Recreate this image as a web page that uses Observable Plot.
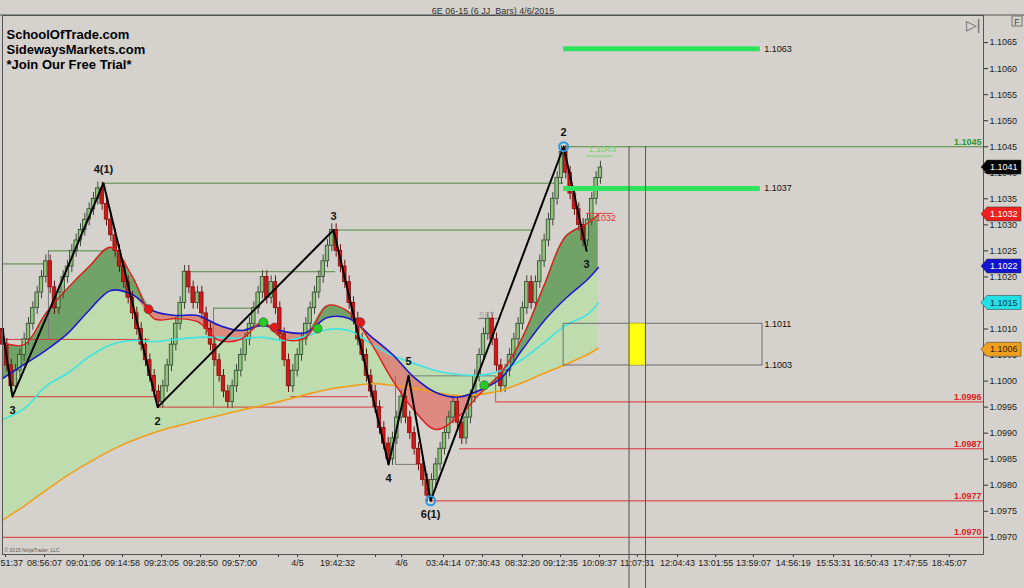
<!DOCTYPE html>
<html><head><meta charset="utf-8">
<script src="https://cdn.jsdelivr.net/npm/d3@7"></script>
<script src="https://cdn.jsdelivr.net/npm/@observablehq/plot@0.6"></script>
<style>
html,body{margin:0;padding:0;background:#d5d2cd;}
#chart{width:1024px;height:588px;position:relative;overflow:hidden;}
</style></head><body><div id="chart"></div>
<script>
// ---------- data ----------
const chartTitle = "6E 06-15 (6 JJ_Bars) 4/6/2015";
const brandLines = ["SchoolOfTrade.com", "SidewaysMarkets.com", "*Join Our Free Trial*"];
const firstOpen = 1.1010;
const closes = [
  1.1007,1.1003,1.0999,1.1002,1.1005,1.1008,1.1011,1.1014,1.1017,1.1020,
  1.1023,1.1018,1.1014,1.1017,1.1020,1.1022,1.1025,1.1027,1.1029,1.1031,
  1.1033,1.1035,1.1037,1.1034,1.1031,1.1028,1.1025,1.1022,1.1019,1.1016,
  1.1013,1.1010,1.1007,1.1004,1.1001,1.0998,1.0996,1.0999,1.1003,1.1007,
  1.1011,1.1015,1.1021,1.1018,1.1015,1.1017,1.1013,1.1010,1.1007,1.1004,
  1.1001,1.0998,1.0996,1.0999,1.1002,1.1005,1.1008,1.1011,1.1014,1.1017,
  1.1020,1.1016,1.1019,1.1014,1.1009,1.1004,1.0999,1.1002,1.1005,1.1008,
  1.1011,1.1014,1.1017,1.1020,1.1023,1.1026,1.1029,1.1025,1.1022,1.1019,
  1.1015,1.1012,1.1008,1.1005,1.1001,1.0998,1.0995,1.0991,1.0988,1.0985,
  1.0989,1.0993,1.0997,1.0993,1.0990,1.0987,1.0984,1.0981,1.0978,1.0981,
  1.0984,1.0987,1.0990,1.0993,1.0996,1.0992,1.0989,1.0993,1.0997,1.1001,
  1.1005,1.1009,1.1012,1.1008,1.1003,1.0999,1.1002,1.1005,1.1008,1.1011,
  1.1014,1.1019,1.1015,1.1019,1.1023,1.1027,1.1031,1.1035,1.1039,1.1044,
  1.1040,1.1036,1.1033,1.1030,1.1027,1.1031,1.1035,1.1039,1.1041
];
const maIndex = [0,5,10,15,20,25,30,35,40,45,50,55,60,65,70,75,80,85,90,95,100,105,110,115,120,125,130,135,137.5];
const fastMA = [1.10074,1.1007,1.1013,1.10178,1.1022,1.10257,1.1020,1.1012,1.1012,1.10114,1.10078,1.1008,1.10112,1.1008,1.10084,1.10145,1.10132,1.10074,1.10002,1.09944,1.09907,1.0993,1.09974,1.10015,1.10084,1.10184,1.10278,1.10303,1.1032];
const midMA  = [1.10005,1.10032,1.10059,1.10091,1.10136,1.10174,1.10166,1.10134,1.10126,1.10126,1.10107,1.10097,1.10107,1.10095,1.10093,1.10122,1.1012,1.10086,1.10051,1.10007,1.09978,1.09969,1.09982,1.10005,1.10061,1.10116,1.10159,1.10195,1.10218];
const slowMA = [1.09926,1.09947,1.0999,1.10015,1.10047,1.1007,1.10078,1.10076,1.1008,1.10084,1.10084,1.10082,1.10084,1.10078,1.10086,1.10099,1.10097,1.10072,1.10049,1.10034,1.1002,1.10013,1.10011,1.1002,1.10042,1.10074,1.10107,1.10128,1.1015];
const longMA = [1.09733,1.0976,1.0979,1.09819,1.09844,1.09867,1.09886,1.09901,1.09913,1.09924,1.09934,1.09944,1.09953,1.09963,1.09974,1.09984,1.0999,1.09995,1.09992,1.09986,1.09978,1.09972,1.09974,1.09982,1.09997,1.10015,1.10032,1.10051,1.10063];

const zigIndex  = [0, 2.3, 23.3, 35.8, 76.4, 89.1, 93.7, 98.8, 129.5, 134.8];
const zigPrice  = [1.1010, 1.0997, 1.1038, 1.0995, 1.1029, 1.0984, 1.1001, 1.0977, 1.1045, 1.1025];
const zigLabels = ["", "3", "4(1)", "2", "3", "4", "5", "6(1)", "2", "3"];

const crossIndex = [33.7, 60.2, 62.8, 72.7, 82.6, 111.2];
const crossPrice = [1.10138, 1.10113, 1.10103, 1.10101, 1.10113, 1.09992];
const crossColor = ["#e01818", "#22cc22", "#e01818", "#22cc22", "#e01818", "#22cc22"];
const ringIndex = [98.8, 129.5];
const ringPrice = [1.0977, 1.1045];

// [price, startBar, endBar]
const greenLevels = [[1.10225,0,10.6],[1.1025,10.6,23.3],[1.1038,23.3,129.5],[1.1021,42.7,76.9],[1.1014,48.7,58.9],[1.1029,76.4,122.5]];
const grayLevels  = [[1.1001,93.7,113.8],[1.0984,90.7,95.8],[1.1012,109.9,114.3]];
const redLevels   = [[1.1008,0,34],[1.0997,2.3,35.8],[1.0995,35.8,88],[1.0997,66.5,84.5]];
// [bar, fromPrice, toPrice]
const levelJoins  = [[10.6,1.1025,1.1008],[48.7,1.1014,1.0995],[90.7,1.1001,1.0984],[113.8,1.1001,1.0996]];
const openGreen = [[1.1045,129.5]];
const openRed   = [[1.0996,113.8],[1.0987,105.5],[1.0977,98.8],[1.0970,0]];

const targetLevels = [1.10638, 1.1037];
const targetLabels = ["1.1063", "1.1037"];
const targetStart = 129.5, targetEnd = 174.9;
const zoneLow = 1.1003, zoneHigh = 1.1011, zoneStart = 129.5, zoneEnd = 175.4;
const cursorBars = [144.6, 148.4];
const cursorTop = 1.1045, cursorBottom = 1.0960;
const tagGreen = {text:"1.1043", price:1.10445, line:1.10432, start:134.8, end:141};
const tagRed   = {text:"1.1032", price:1.10312, line:1.10322, start:134.8, end:141};
const tag597   = {text:"597", price:1.10126, bar:110};

const flagValues = [1.1041, 1.1032, 1.1022, 1.1015, 1.1006];
const flagFill   = ["#050505", "#f02020", "#1414d0", "#22e0e6", "#f0a020"];
const flagText   = ["#ffffff", "#ffffff", "#ffffff", "#0a3a4a", "#3a2000"];

const yTicks = [1.0970,1.0975,1.0980,1.0985,1.0990,1.0995,1.1000,1.1005,1.1010,1.1015,1.1020,1.1025,1.1030,1.1035,1.1040,1.1045,1.1050,1.1055,1.1060,1.1065];
const xTickIndex = [0.7,9.7,18.7,27.7,36.7,45.7,54.7,63.7,68.1,77.3,86.1,92.1,101.8,110.8,120.0,128.8,137.8,146.5,155.8,164.6,173.3,182.5,191.8,200.5,209.5,218.5];
const xTickLabels = ["08:51:37","08:56:07","09:01:06","09:14:58","09:23:05","09:28:50","09:57:00","","4/5","19:42:32","","4/6","03:44:14","07:30:43","08:32:20","09:12:35","10:09:37","11:07:31","12:04:43","13:01:55","13:59:07","14:56:19","15:53:31","16:50:43","17:47:55","18:45:07"];

// ---------- derived tables ----------
const xMax = 226.4;
const bars = closes.map((c, i) => {
  const o = i === 0 ? firstOpen : closes[i - 1];
  return {i, o, c, up: c > o, lo: Math.min(o, c), hi: Math.max(o, c)};
});
const ma = maIndex.map((i, k) => ({i, fast: fastMA[k], mid: midMA[k], slow: slowMA[k], long: longMA[k]}));
const zig = zigIndex.map((i, k) => ({i, p: zigPrice[k], label: zigLabels[k], high: k > 0 && zigPrice[k] > zigPrice[k - 1]}));
const crosses = crossIndex.map((i, k) => ({i, p: crossPrice[k], color: crossColor[k]}));
const rings = ringIndex.map((i, k) => ({i, p: ringPrice[k]}));
const targets = targetLevels.map((p, k) => ({p, label: targetLabels[k]}));
const seg = (arr) => arr.map(([p, a, b]) => ({p, a, b}));
const tickLabelMap = new Map(xTickIndex.map((v, k) => [v, xTickLabels[k]]));
const fmt = d => d.toFixed(4);

const font = "Liberation Sans, Arial, sans-serif";
const curve = "catmull-rom";

const plot = Plot.plot({
  width: 1024, height: 588,
  marginLeft: 2, marginRight: 41, marginTop: 15, marginBottom: 34,
  style: {background: "#d5d2cd", fontFamily: font, fontSize: "9px", color: "#222", overflow: "visible"},
  x: {domain: [0, xMax], axis: null},
  y: {domain: [1.09667, 1.10702], axis: null},
  color: {type: "identity"},
  marks: [
    // fills
    Plot.areaY(ma, {x: "i", y1: "long", y2: d => Math.max(d.mid, d.slow), fill: "#bfdcae", curve}),
    Plot.areaY(ma, {x: "i", y1: "mid", y2: d => Math.max(d.fast, d.mid), fill: "#5f9a55", fillOpacity: 0.85, curve}),
    Plot.areaY(ma, {x: "i", y1: "mid", y2: d => Math.min(d.fast, d.mid), fill: "#e07870", fillOpacity: 0.8, curve}),
    // level lines
    Plot.ruleY(seg(greenLevels), {y: "p", x1: "a", x2: "b", stroke: "#4f8a3c", strokeWidth: 1}),
    Plot.ruleY(seg(grayLevels), {y: "p", x1: "a", x2: "b", stroke: "#7a7a7a", strokeWidth: 1}),
    Plot.ruleY(seg(redLevels), {y: "p", x1: "a", x2: "b", stroke: "#d83a3a", strokeWidth: 1}),
    Plot.ruleX(levelJoins.map(([b, p1, p2]) => ({b, p1, p2})), {x: "b", y1: "p1", y2: "p2", stroke: "#7a7a7a", strokeWidth: 1}),
    Plot.ruleY(openGreen.map(([p, a]) => ({p, a})), {y: "p", x1: "a", x2: xMax, stroke: "#4f8a3c", strokeWidth: 1}),
    Plot.ruleY(openRed.map(([p, a]) => ({p, a})), {y: "p", x1: "a", x2: xMax, stroke: "#e03030", strokeWidth: 1}),
    Plot.text(openGreen.map(([p]) => ({p})), {x: xMax, y: "p", text: d => fmt(d.p), textAnchor: "end", dx: -2, dy: -5, fill: "#2c9a2c", fontWeight: "bold", fontSize: 9}),
    Plot.text(openRed.map(([p]) => ({p})), {x: xMax, y: "p", text: d => fmt(d.p), textAnchor: "end", dx: -2, dy: -5, fill: "#e02020", fontWeight: "bold", fontSize: 9}),
    // bars
    Plot.ruleX(bars, {x: "i", y1: d => d.lo - 0.00012, y2: d => d.hi + 0.00012, stroke: d => d.up ? "#3a4a38" : "#6a1010", strokeWidth: 1}),
    Plot.rect(bars, {x1: d => d.i - 0.4, x2: d => d.i + 0.4, y1: "o", y2: "c",
      fill: d => d.up ? "#8fc27c" : "#cc1a1a", stroke: d => d.up ? "#2e452c" : "#8a0c0c", strokeWidth: 0.8}),
    // moving averages
    Plot.line(ma, {x: "i", y: "long", stroke: "#f0a018", strokeWidth: 1.6, curve}),
    Plot.line(ma, {x: "i", y: "slow", stroke: "#3ee4e4", strokeWidth: 1.6, curve}),
    Plot.line(ma, {x: "i", y: "mid", stroke: "#1818c8", strokeWidth: 1.6, curve}),
    Plot.line(ma, {x: "i", y: "fast", stroke: "#e01c1c", strokeWidth: 1.4, curve}),
    // zigzag
    Plot.line(zig, {x: "i", y: "p", stroke: "#000", strokeWidth: 2}),
    Plot.text(zig.filter(d => d.label && d.high), {x: "i", y: "p", text: "label", dy: -14, fontWeight: "bold", fontSize: 11, fill: "#111"}),
    Plot.text(zig.filter(d => d.label && !d.high), {x: "i", y: "p", text: "label", dy: 14, fontWeight: "bold", fontSize: 11, fill: "#111"}),
    Plot.dot(crosses, {x: "i", y: "p", r: 4.5, fill: "color", stroke: "#444", strokeWidth: 0.6}),
    Plot.dot(rings, {x: "i", y: "p", r: 4.5, fill: "none", stroke: "#2a9ae8", strokeWidth: 2}),
    // small tags
    Plot.ruleY([tagGreen], {y: "line", x1: "start", x2: "end", stroke: "#70d870", strokeWidth: 1}),
    Plot.text([tagGreen], {x: "start", y: "price", text: "text", textAnchor: "start", dx: 2, fill: "#6ad86a", fontSize: 9}),
    Plot.ruleY([tagRed], {y: "line", x1: "start", x2: "end", stroke: "#e04040", strokeWidth: 1}),
    Plot.text([tagRed], {x: "start", y: "price", text: "text", textAnchor: "start", dx: 2, fill: "#e03030", fontSize: 9}),
    Plot.text([tag597], {x: "bar", y: "price", text: "text", textAnchor: "start", fill: "#a8a8a8", fontSize: 9}),
    // projections
    Plot.ruleY(targets, {y: "p", x1: targetStart, x2: targetEnd, stroke: "#2ee45c", strokeWidth: 5}),
    Plot.text(targets, {x: targetEnd, y: "p", text: "label", textAnchor: "start", dx: 4, fill: "#111", fontSize: 9}),
    Plot.rect([zoneLow], {x1: zoneStart, x2: zoneEnd, y1: zoneLow, y2: zoneHigh, fill: "none", stroke: "#6e6e6e", strokeWidth: 1}),
    Plot.text([zoneLow, zoneHigh], {x: zoneEnd, y: d => d, text: d => fmt(d), textAnchor: "start", dx: 2, fill: "#111", fontSize: 9}),
    Plot.rect([zoneLow], {x1: cursorBars[0], x2: cursorBars[1], y1: zoneLow, y2: zoneHigh, fill: "#ffff10", stroke: "#c8c800", strokeWidth: 0.5}),
    Plot.ruleX(cursorBars, {y1: cursorTop, y2: cursorBottom, stroke: "#555", strokeWidth: 1}),
    // axes and frame
    Plot.axisY(yTicks, {anchor: "right", tickSize: 4, tickPadding: 2, tickFormat: fmt, fontSize: 9, fill: "#222", stroke: "#333"}),
    Plot.axisX(xTickIndex, {anchor: "bottom", tickSize: 3, tickPadding: 2, tickFormat: d => tickLabelMap.get(d), fontSize: 9, fill: "#222", stroke: "#333"}),
    Plot.frame({stroke: "#555", strokeWidth: 1}),
    // texts
    Plot.text([chartTitle], {frameAnchor: "top", dy: -8, fontSize: 9, fill: "#333"}),
    Plot.text([brandLines.join("\n")], {frameAnchor: "top-left", dx: 4, dy: 13, lineHeight: 1.14, fontSize: 13, fontWeight: "bold", fill: "#000"}),
    Plot.text(["© 2015 NinjaTrader, LLC"], {frameAnchor: "bottom-left", dx: 2, dy: -3, fontSize: 5, fill: "#555"}),
    Plot.text(["▷|"], {frameAnchor: "top-right", dx: -3, dy: 5, fontSize: 14, fill: "#666"})
  ]
});

document.getElementById("chart").appendChild(plot);

// value flags on the price axis, placed with Plot's y scale
const yScale = plot.scale("y");
const svg = d3.select(plot);
const gFlags = svg.append("g").attr("font-family", font).attr("font-size", 9).attr("text-anchor", "start");
flagValues.forEach((v, k) => {
  const y = yScale.apply(v);
  const x0 = 981, x1 = 987, x2 = 1021, h = 7;
  gFlags.append("path")
    .attr("d", `M${x0},${y}L${x1},${y - h}L${x2},${y - h}L${x2},${y + h}L${x1},${y + h}Z`)
    .attr("fill", flagFill[k]).attr("stroke", "#333").attr("stroke-width", 0.5);
  gFlags.append("text").attr("x", 990).attr("y", y).attr("dy", "0.35em")
    .attr("fill", flagText[k]).text(fmt(v));
});
// full-width top border and F box
svg.append("line").attr("x1", 0).attr("x2", 1024).attr("y1", 15).attr("y2", 15).attr("stroke", "#555");
svg.append("rect").attr("x", 1012).attr("y", 16).attr("width", 10).attr("height", 10).attr("fill", "none").attr("stroke", "#777");
svg.append("text").attr("x", 1017).attr("y", 24.5).attr("text-anchor", "middle").attr("font-size", 9).attr("font-family", font).attr("fill", "#444").text("F");
</script></body></html>
